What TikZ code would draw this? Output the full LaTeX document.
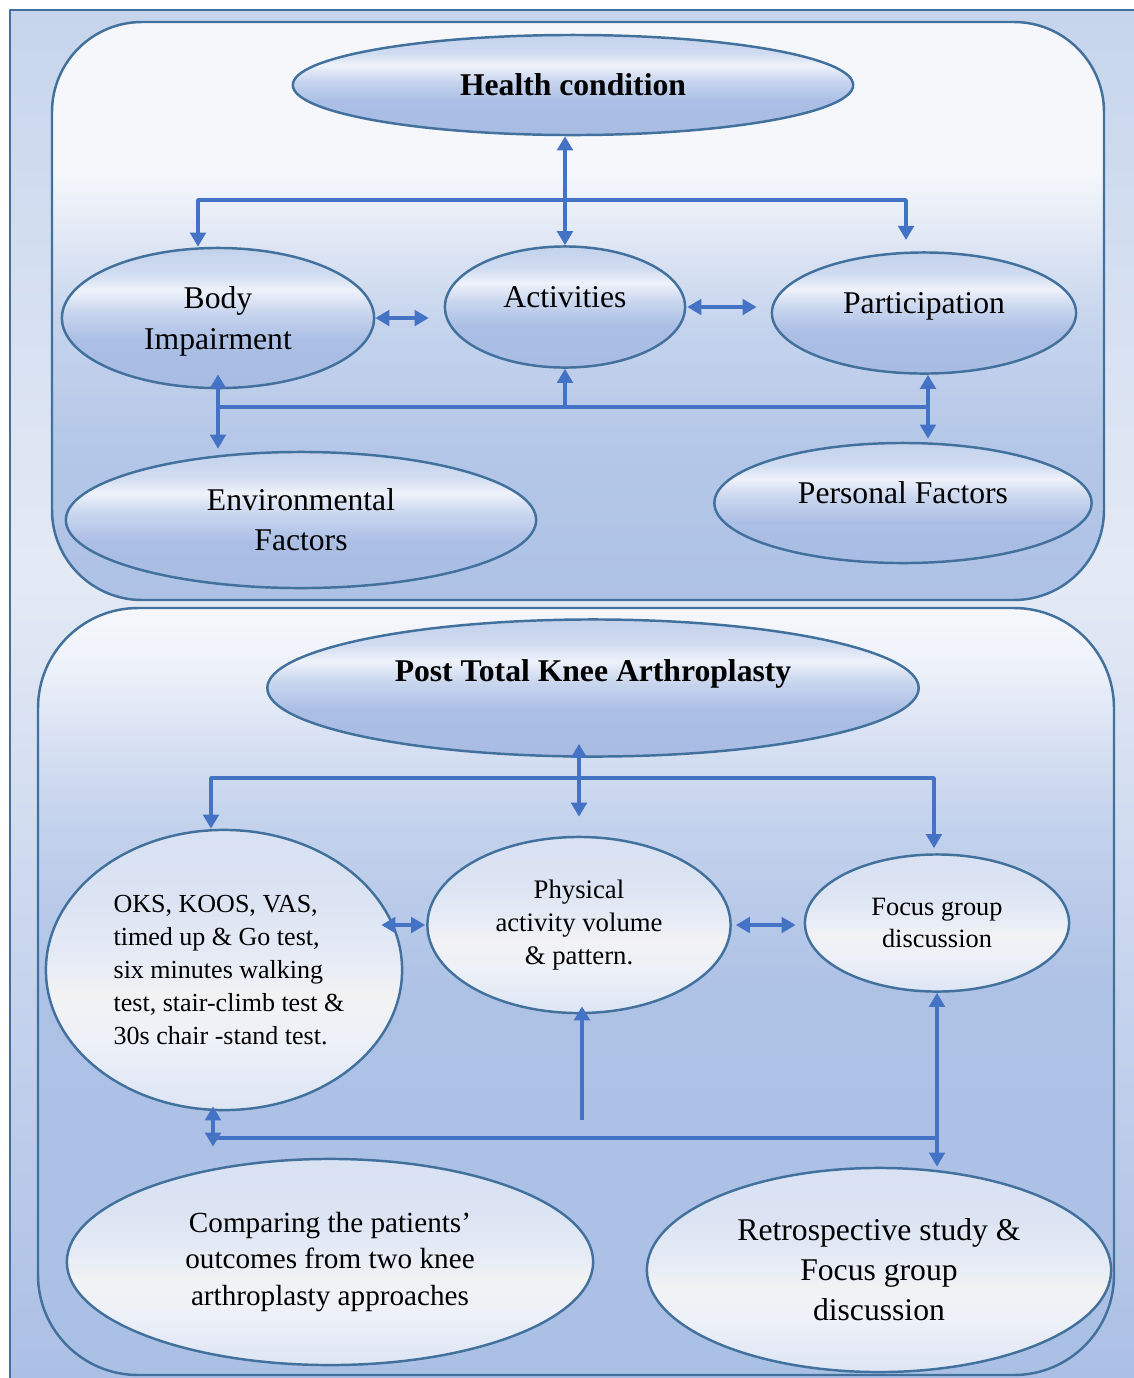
\documentclass[tikz,border=0pt]{standalone}
\usepackage{fontspec}
\setmainfont{Liberation Serif}
\usetikzlibrary{shapes.geometric,arrows.meta}
\definecolor{linkblue}{HTML}{4472C4}
\definecolor{rim}{HTML}{41719C}
\definecolor{deep}{HTML}{A9BDE4}
\definecolor{deepa}{HTML}{AEC2E6}
\definecolor{deepb}{HTML}{ABC0E5}
\definecolor{midA}{HTML}{B4C7E8}
\definecolor{midB}{HTML}{C6D4ED}
\definecolor{midC}{HTML}{C9D6EE}
\definecolor{paleA}{HTML}{E4EAF5}
\definecolor{paleB}{HTML}{C6D5EC}
\definecolor{snow}{HTML}{F5F7FB}
\definecolor{snowb}{HTML}{F0F3FA}
\definecolor{ellA}{HTML}{ABBFE5}
\definecolor{ellB}{HTML}{C8D5EE}
\definecolor{ellC}{HTML}{EEF2FA}
\definecolor{ellD}{HTML}{D0DCF1}
\definecolor{ellE}{HTML}{C3D2EC}
\definecolor{lowA}{HTML}{DDE5F4}
\definecolor{lowB}{HTML}{EEF1F8}
\definecolor{lowC}{HTML}{F2F2F3}
\definecolor{lowD}{HTML}{E8EDF6}
\definecolor{lowE}{HTML}{DCE4F3}
\definecolor{lowF}{HTML}{D9E2F3}
% vertical fades (25bp = bottom, 75bp = top of the filled path)
\pgfdeclareverticalshading{outerfade}{100bp}{color(0bp)=(deep); color(25bp)=(deep); color(42bp)=(midC); color(55bp)=(paleA); color(75bp)=(paleB); color(100bp)=(paleB)}
\pgfdeclareverticalshading{topfade}{100bp}{color(0bp)=(deepa); color(25bp)=(deepa); color(38bp)=(midA); color(49bp)=(midB); color(62bp)=(snow); color(100bp)=(snow)}
\pgfdeclareverticalshading{lowfade}{100bp}{color(0bp)=(deepb); color(25bp)=(deepb); color(50bp)=(deepa); color(62bp)=(midB); color(72bp)=(snowb); color(75bp)=(snow); color(100bp)=(snow)}
\pgfdeclareverticalshading{topell}{100bp}{color(0bp)=(deep); color(25bp)=(deep); color(42bp)=(ellA); color(52bp)=(ellB); color(60bp)=(ellC); color(66bp)=(ellD); color(75bp)=(ellE); color(100bp)=(ellE)}
\pgfdeclareverticalshading{lowell}{100bp}{color(0bp)=(lowA); color(25bp)=(lowA); color(38bp)=(lowB); color(46bp)=(lowC); color(50bp)=(lowD); color(62bp)=(lowE); color(75bp)=(lowF); color(100bp)=(lowF)}
\begin{document}
\begin{tikzpicture}[x=0.01cm, y=-0.01cm, line join=round, >={Triangle[length=4pt,width=4.4pt]},
	oval/.style={ellipse, draw=rim, line width=0.7pt, inner sep=0pt, align=center, shade, font=\fontsize{9}{11.4}\selectfont},
	upper/.style={oval, shading=topell},
	lower/.style={oval, shading=lowell},
	lift/.style={text height=6.5pt, text depth=6.2pt},
	link/.style={draw=linkblue, line width=1pt},
	box/.style={draw=rim, line width=0.7pt, shade}]
	\useasboundingbox (0,0) rectangle (1134,1378);
	% khung nen
	\draw[box, shading=outerfade] (10,10) rectangle (1180,1420);
	\draw[box, shading=topfade, rounded corners=0.9cm] (52,22) rectangle (1104,600);
	\draw[box, shading=lowfade, rounded corners=1cm] (38,608) rectangle (1114,1375);
	% phan tren
	\node[upper, minimum width=5.6cm, minimum height=1cm, font=\bfseries\fontsize{9}{11.4}\selectfont] (hc) at (573,85) {Health condition};
	\node[upper, minimum width=3.12cm, minimum height=1.4cm, text depth=0pt] (body) at (218,318) {Body\\Impairment};
	\node[upper, lift, minimum width=2.4cm, minimum height=1.21cm] (act) at (565,307) {Activities};
	\node[upper, lift, minimum width=3.04cm, minimum height=1.21cm] (part) at (924,313) {Participation};
	\node[upper, minimum width=4.7cm, minimum height=1.36cm] (env) at (301,520) {Environmental\\Factors};
	\node[upper, lift, minimum width=3.77cm, minimum height=1.2cm] (pers) at (903,503) {Personal Factors};
	\coordinate (ta) at (198,200);
	\coordinate (tb) at (906,200);
	\coordinate (tc) at (906,240);
	\draw[link,<->] (hc.south -| act.north) -- (act.north);
	\draw[link,<->] (tc) -- (tb) -- (ta) -- (ta |- body.north);
	\draw[link,<->,shorten >=0.15cm] (body.east) -- (act.west |- body.east);
	\draw[link,<->,shorten <=0.01cm,shorten >=0.14cm] (act.east) -- (act.east -| part.west);
	\coordinate (ma) at (218,407);
	\coordinate (mb) at (928,407);
	\draw[link] (ma) -- (mb);
	\draw[link,<->,shorten <=-0.15cm,shorten >=0.02cm] (body.south) -- (env.north -| body.south);
	\draw[link,->] (act.south |- ma) -- (act.south);
	\draw[link,<->,shorten >=0.03cm] (part.south -| mb) -- (pers.north -| mb);
	% phan duoi
	\node[upper, minimum width=6.51cm, minimum height=1.37cm, text height=6.5pt, text depth=10pt, font=\bfseries\fontsize{9}{11.4}\selectfont] (post) at (593,688) {Post Total Knee Arthroplasty};
	\node[lower, minimum width=3.56cm, minimum height=2.8cm, align=left, font=\fontsize{7.4}{9.4}\selectfont] (oks) at (224,970) {\hspace*{0.1cm}OKS, KOOS, VAS,\\\hspace*{0.1cm}timed up \& Go test,\\\hspace*{0.1cm}six minutes walking\\\hspace*{0.1cm}test, stair-climb test \&\\\hspace*{0.1cm}30s chair -stand test.};
	\node[lower, minimum width=3.03cm, minimum height=1.76cm, font=\fontsize{7.6}{9.5}\selectfont] (phys) at (579,925) {Physical\\activity volume\\\& pattern.};
	\node[lower, minimum width=2.64cm, minimum height=1.37cm, font=\fontsize{7.5}{9.1}\selectfont] (focus) at (937,923) {Focus group\\discussion};
	\node[lower, minimum width=5.26cm, minimum height=2.06cm, font=\fontsize{8.3}{10.4}\selectfont] (comp) at (330,1262) {Comparing the patients’\\outcomes from two knee\\arthroplasty approaches};
	\node[lower, minimum width=4.64cm, minimum height=2.04cm] (retro) at (879,1270) {Retrospective study \&\\Focus group\\discussion};
	\coordinate (pa) at (211,778);
	\coordinate (pb) at (934,778);
	\draw[link,<->,shorten <=-0.14cm,shorten >=0.19cm] (phys.north |- post.south) -- (phys.north);
	\draw[link,<->,shorten >=0.05cm] (pa |- oks.north) -- (pa) -- (pb) -- (pb |- focus.north);
	\draw[link,<->,shorten <=-0.22cm,shorten >=0.01cm] (oks.east |- phys.west) -- (phys.west);
	\draw[link,<->,shorten <=0.04cm,shorten >=0.08cm] (phys.east) -- (phys.east -| focus.west);
	\coordinate (pu) at (582,1120);
	\draw[link,->,shorten >=-0.08cm] (pu) -- (pu |- phys.south);
	\coordinate (qa) at (213,1138);
	\coordinate (qb) at (937,1138);
	\draw[link] (qa) -- (qb);
	\draw[link,<->,shorten <=-0.05cm,shorten >=0.11cm] (qa |- oks.south) -- (qa |- comp.north);
	\draw[link,<->] (focus.south) -- (focus.south |- retro.north);
\end{tikzpicture}
\end{document}
